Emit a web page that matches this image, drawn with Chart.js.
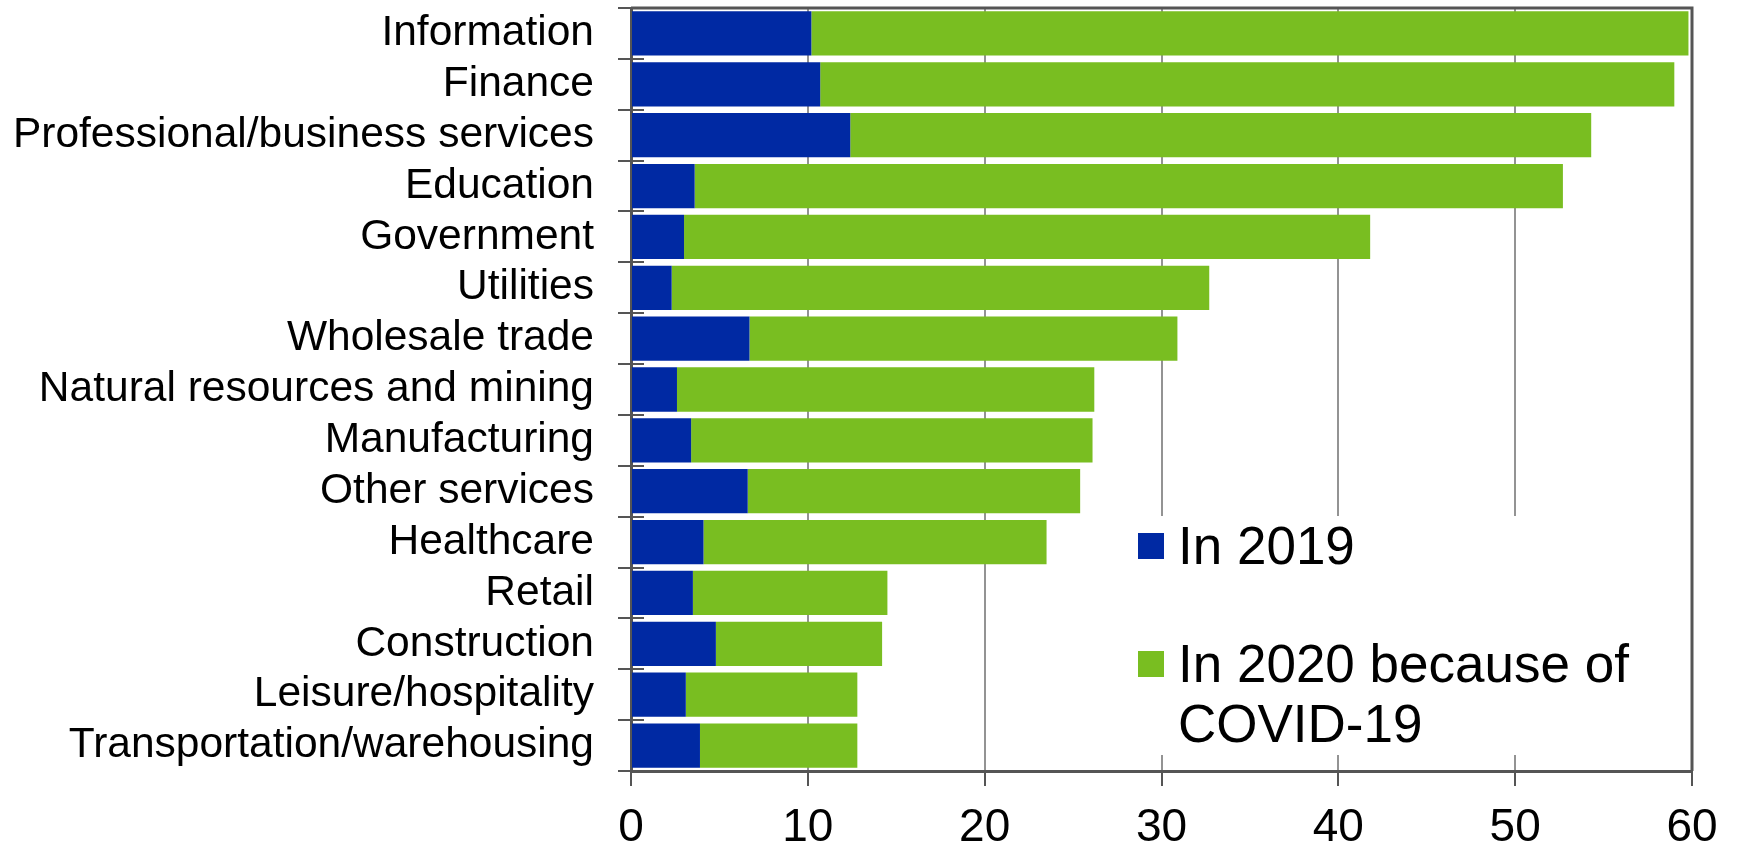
<!DOCTYPE html>
<html lang="en">

<head>
    <meta charset="UTF-8">
    <title>Remote work by industry</title>
    <script src="https://cdn.jsdelivr.net/npm/chart.js"></script>
    <style>
        body {
            margin: 0;
            background-color: #ffffff;
            font-family: 'Liberation Sans', Arial, sans-serif;
        }

        .wrap {
            position: relative;
            width: 1737px;
            height: 848px;
        }

        .legend-box {
            position: absolute;
            left: 1120px;
            top: 516px;
            width: 565px;
            height: 239px;
            background-color: #ffffff;
        }

        .legend-item {
            position: absolute;
            left: 18px;
            font-size: 53px;
            line-height: 60px;
            color: #000000;
            white-space: nowrap;
        }

        .legend-item .swatch {
            position: absolute;
            left: 0;
            top: 17px;
            width: 26px;
            height: 26px;
        }

        .legend-item .text {
            margin-left: 40px;
        }
    </style>
</head>

<body>

    <div class="wrap">
        <canvas id="barChart" width="1737" height="848"></canvas>
        <div class="legend-box" id="legend"></div>
    </div>

    <script>
        const categories = [
            "Information", "Finance", "Professional/business services", "Education",
            "Government", "Utilities", "Wholesale trade", "Natural resources and mining",
            "Manufacturing", "Other services", "Healthcare", "Retail", "Construction",
            "Leisure/hospitality", "Transportation/warehousing"
        ];
        // share of remote work in 2019
        const in2019 = [10.2, 10.7, 12.4, 3.6, 3.0, 2.3, 6.7, 2.6, 3.4, 6.6, 4.1, 3.5, 4.8, 3.1, 3.9];
        // extra share added in 2020 (stacked on top)
        const in2020 = [49.6, 48.3, 41.9, 49.1, 38.8, 30.4, 24.2, 23.6, 22.7, 18.8, 19.4, 11.0, 9.4, 9.7, 8.9];
        const xTicks = [0, 10, 20, 30, 40, 50, 60];
        const seriesNames = ["In 2019", "In 2020 because of COVID-19"];
        const seriesColors = ["#0029a3", "#79be21"];

        const FONT = "'Liberation Sans', Arial, sans-serif";
        const AXIS = "#555555";

        // top/right edge of the plot frame, plus the inner half of the category ticks
        const framePlugin = {
            id: 'frame',
            afterDraw(chart) {
                const a = chart.chartArea;
                const ctx = chart.ctx;
                const y = chart.scales.y;
                ctx.save();
                ctx.strokeStyle = AXIS;
                ctx.lineWidth = 3;
                ctx.beginPath();
                ctx.moveTo(a.left, a.top);
                ctx.lineTo(a.right, a.top);
                ctx.lineTo(a.right, a.bottom);
                ctx.stroke();
                ctx.lineWidth = 2;
                ctx.beginPath();
                for (let i = 0; i <= categories.length; i++) {
                    const py = Math.round(y.getPixelForValue(i - 0.5));
                    ctx.moveTo(a.left, py);
                    ctx.lineTo(a.left + 13, py);
                }
                ctx.stroke();
                ctx.restore();
            }
        };

        const ctx = document.getElementById('barChart').getContext('2d');
        new Chart(ctx, {
            type: 'bar',
            data: {
                labels: categories,
                datasets: [{
                    label: seriesNames[0],
                    data: in2019,
                    backgroundColor: seriesColors[0],
                    borderWidth: 0
                }, {
                    label: seriesNames[1],
                    data: in2020,
                    backgroundColor: seriesColors[1],
                    borderWidth: 0
                }]
            },
            options: {
                indexAxis: 'y',
                responsive: false,
                animation: false,
                devicePixelRatio: 1,
                datasets: {
                    bar: { categoryPercentage: 1, barPercentage: 0.87 }
                },
                layout: { padding: { top: 8, right: 45, left: 0, bottom: 0 } },
                plugins: {
                    legend: { display: false },
                    tooltip: { enabled: false }
                },
                scales: {
                    x: {
                        stacked: true,
                        min: 0,
                        max: 60,
                        afterBuildTicks: (scale) => {
                            scale.ticks = xTicks.map(v => ({ value: v }));
                        },
                        afterFit: (scale) => { scale.height = 77; },
                        border: { color: AXIS, width: 3 },
                        grid: {
                            color: (c) => c.tick && c.tick.value === 60 ? AXIS : '#939393',
                            lineWidth: 2,
                            tickColor: AXIS,
                            tickLength: 15
                        },
                        ticks: {
                            color: '#000000',
                            padding: 15,
                            font: { family: FONT, size: 46 }
                        }
                    },
                    y: {
                        stacked: true,
                        afterFit: (scale) => {
                            scale.width = 631;
                            scale.paddingTop = 0;
                            scale.paddingBottom = 0;
                        },
                        border: { color: AXIS, width: 3 },
                        grid: {
                            offset: true,
                            drawOnChartArea: false,
                            tickColor: AXIS,
                            lineWidth: 2,
                            tickLength: 13
                        },
                        ticks: {
                            autoSkip: false,
                            color: '#000000',
                            padding: 24,
                            font: { family: FONT, size: 42.5 }
                        }
                    }
                }
            },
            plugins: [framePlugin]
        });

        // legend drawn as html, sitting on a white box over the grid
        const legend = document.getElementById('legend');
        const itemTops = [0, 118];
        seriesNames.forEach((name, i) => {
            const item = document.createElement('div');
            item.className = 'legend-item';
            item.style.top = itemTops[i] + 'px';
            const text = i === 1 ? 'In 2020 because of<br>COVID-19' : name;
            item.innerHTML = `<span class="swatch" style="background:${seriesColors[i]}"></span><div class="text">${text}</div>`;
            legend.appendChild(item);
        });
    </script>

</body>

</html>
